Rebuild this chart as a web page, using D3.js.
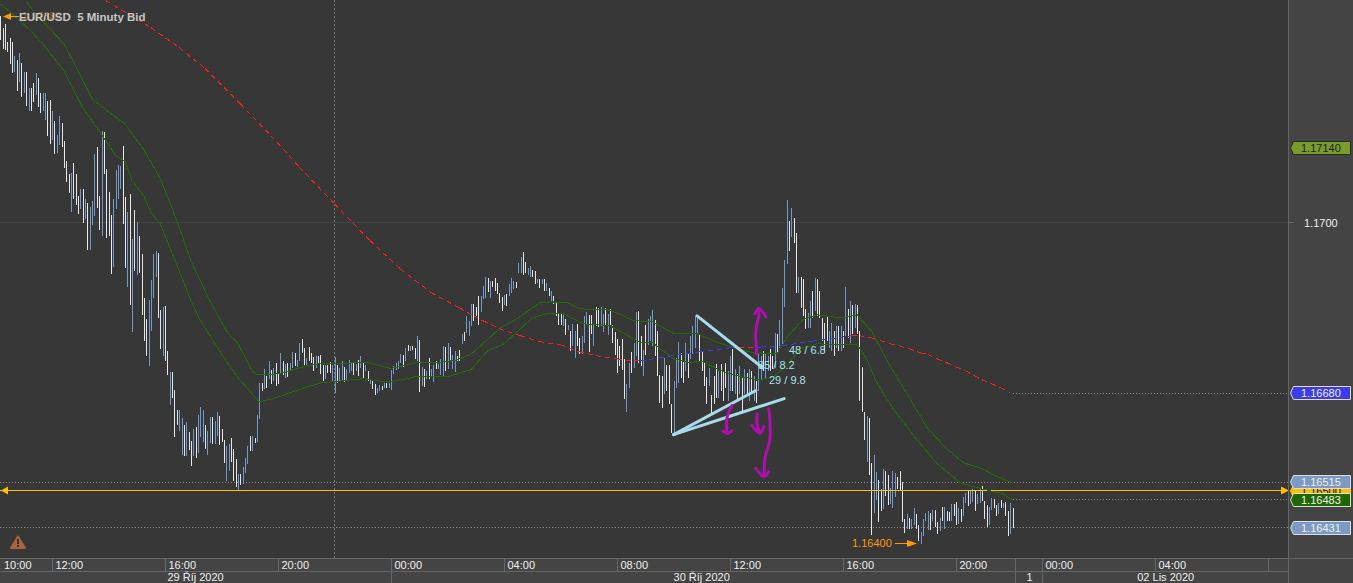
<!DOCTYPE html>
<html><head><meta charset="utf-8"><script src="https://cdn.jsdelivr.net/npm/d3@7"></script>
<style>html,body{margin:0;padding:0;background:#373737;overflow:hidden}svg{display:block;font-family:"Liberation Sans",sans-serif}</style></head>
<body><div id="chart"></div>
<script>
// Prices are stored as points above 1.16000 (1 point = 0.00001). Bars are 5-minute bars, in order.
const BASE = 1.16;
const highs = [
1382,1360,1367,1334,1341,1334,1308,1300,1313,1295,1278,1278,1248,1248,1257,1276,1267,1239,1239,1239,1224,1226,1205,1187,1161,1196,1183,1150,1112,1088,1090,1109,1088,1047,1060,1060,1042,1034,1027,1038,1125,1138,1047,1168,1166,1098,1055,1012,1042,1096,1105,1103,1140,1045,1018,1051,967,1021,999,973,939,858,819,854,891,939,945,941,835,841,843,759,
720,720,686,649,649,634,620,627,608,592,614,618,640,655,649,620,610,636,636,629,646,638,614,593,582,586,597,577,558,530,530,543,560,582,601,601,597,640,699,699,725,712,740,724,727,737,716,755,740,735,737,737,757,755,742,774,781,765,746,766,755,748,750,750,752,733,733,733,739,733,748,733,727,740,729,725,742,739,739,735,742,750,739,733,722,707,703,698,690,696,694,699,699,699,724,731,737,740,753,752,765,770,768,768,765,787,779,729,725,722,746,725,733,740,735,744,768,766,774,766,752,759,750,761,791,794,824,
815,846,846,841,861,861,880,897,895,889,889,895,885,867,859,863,865,884,895,889,887,923,934,943,925,913,917,910,908,893,893,893,893,885,876,871,861,848,828,828,828,819,807,796,809,796,809,783,787,824,832,826,826,807,841,839,841,828,839,828,837,807,794,781,768,781,744,698,737,757,774,832,833,787,761,807,819,824,835,817,796,714,
712,746,733,733,660,703,746,776,755,740,774,755,787,806,824,824,791,759,737,711,727,677,712,735,722,735,722,737,722,750,763,725,716,731,709,725,718,725,722,712,703,753,750,759,753,750,763,750,792,791,
817,876,928,1040,1001,1025,1006,978,897,897,893,837,830,852,871,895,893,871,820,811,822,796,811,796,806,806,806,796,878,837,
852,845,846,845,796,729,646,637,634,551,566,534,519,502,540,536,528,504,536,532,525,536,515,446,456,448,446,467,456,434,422,446,458,461,458,463,463,441,448,469,469,461,460,474,474,478,467,465,487,495,500,499,502,499,493,502,508,480,473,469,486,484,473,476,482,476,478,461,476,467];
const lows = [
1337,1321,1319,1315,1293,1276,1278,1243,1259,1231,1239,1215,1205,1205,1222,1235,1213,1202,1205,1189,1159,1144,1151,1125,1127,1142,1138,1099,1073,1053,1018,1042,1031,1014,1023,997,1005,947,947,993,1010,1025,984,973,1088,969,973,902,915,1023,1042,1060,995,913,878,845,794,908,900,904,826,778,750,731,796,858,897,820,763,750,740,713,
659,672,599,620,610,566,564,564,575,545,564,560,569,599,590,577,566,588,586,586,601,584,590,551,517,536,553,517,506,499,510,512,532,549,573,573,588,590,632,685,688,690,707,698,703,694,698,716,714,709,711,722,727,731,729,740,755,733,733,740,737,722,727,735,716,703,707,718,718,703,681,699,701,703,701,703,718,722,714,722,712,727,707,722,703,698,688,677,681,685,686,690,690,690,686,716,724,725,737,729,740,759,759,761,744,740,683,694,692,707,707,711,701,725,725,714,712,722,725,740,725,720,740,740,772,778,792,
787,806,815,824,807,832,856,858,869,858,878,871,865,848,833,845,843,861,867,874,876,904,904,900,904,900,897,897,884,885,876,884,871,871,861,852,846,824,807,807,806,789,798,759,768,746,768,753,753,774,807,757,791,768,806,804,806,793,807,789,806,774,752,718,731,724,670,646,690,718,727,750,737,731,712,752,770,778,768,750,712,662,
653,679,685,660,606,605,690,699,709,699,722,709,744,753,765,791,740,722,694,660,694,642,660,672,672,685,666,690,666,685,685,679,666,679,647,679,675,666,679,666,662,685,707,722,709,722,722,725,727,753,
765,772,841,921,945,971,960,867,867,839,824,800,802,802,820,833,824,820,778,759,778,765,759,750,765,759,759,765,787,783,
774,791,802,791,666,646,593,553,528,417,458,482,441,461,465,489,473,474,467,487,502,499,441,420,428,428,428,435,428,406,400,415,443,426,426,443,432,419,424,443,428,443,443,443,452,435,437,441,452,476,471,474,478,461,474,476,480,446,432,434,463,467,452,456,467,467,452,415,418,430];
// bar colour class per bar: b = blue (rising), w = white (falling)
const barDirs = [
"wwwwwwbwbwbwbwwbwwbbwwbwbbwwwwbwwwbwbwbbbwwbwwwwbbbbwwbwbwbwwwwbbbbwwbww",
"bwwwbbwbww","bwbbbwbbwb","bwwwbbwwwb","wbbbwbwbbw","bwbwbwwbwb","wbbwbbwwbw","wwbwwwbwwb","bwbbwbbbwb","wbwbwbwwbb","wbwbbbbbbw","bwbwwbwbwb","wbbwbbbwbw","bbwwbwb",
"b","bwwwbbbwbw","wwwwbwbbbw","bbwwbbwwbw","bwbwbwwwwb","wbwbbwwbbb","wwbwwbbwbw","wwwwwwbbwbb","wwbwbbbwww",
"wbwwwbbbwwb","wbbbbwwwwb","wwwbwwwbbw","bwbwbwbwbwb","bwbbwwbw",
"bbbbwbwwbw","wwbbwbwwww","wbbwbwbwbw",
"bwbwwwwbww","bbwwbwwbbb","wwwwbwbbww","bbbbwbwwbw","bwwbwwbwbb","wbbwbbwwwb","bwwbwbwwbw"
].join("");
const hourTickIdx  = [-2,22,70,118,166,214,262,310,358,406,442.5,490.5,538.5];
const hourLabels   = ["10:00","12:00","16:00","20:00","00:00","04:00","08:00","12:00","16:00","20:00","00:00","04:00",""];
const dateSepIdx   = [166,431,442.5];
const dateLabels   = ["29 Říj 2020","30 Říj 2020","1","02 Lis 2020"];
const dateLabelIdx = [71,286,436,483];
// moving averages, read at sampled bar positions
const emaUpperIdx = [11,14,21,27,33,39,47,53,55,61,68,75,81,89,96,101,107,109,115,122,130,136,156,166,177,186,194,200,204,212,220,229,234,241,246,258,263,269,277,286,296,305,313,322,330,334,341,347,357,364,370,378,387,394,402,409,417,423,430];
const emaUpperVal = [1410,1391,1358,1330,1280,1228,1200,1181,1168,1133,1079,1001,926,852,796,772,722,714,714,720,731,735,737,726,737,737,742,753,768,800,820,848,850,848,837,835,828,815,813,791,791,774,763,753,753,783,817,826,820,826,796,731,666,614,577,551,540,526,513];
const emaLowerIdx = [0,5,13,18,27,35,44,49,53,56,61,64,68,72,76,81,85,90,95,101,110,116,129,136,154,164,173,177,191,200,207,214,221,226,232,239,248,259,265,272,277,286,293,298,306,314,322,328,334,340,347,357,364,368,372,379,388,398,408,417,426,430];
const emaLowerVal = [1404,1386,1354,1330,1280,1211,1155,1122,1112,1075,1047,1016,995,951,908,852,815,781,746,709,664,670,690,699,707,701,707,712,712,724,759,772,800,820,828,828,809,806,791,774,774,744,737,740,722,711,705,709,731,763,772,770,770,744,703,653,601,549,513,502,493,482];
const smaIdx = [45,64,76,87,102,115,127,142,157,170,183,195,201,205,212,221,229,238,246,253,262,269,272,280,297,311,314,321,323,332,345,362,365,370,374,378,382,386,391,394,398,402,406,410,414,417,421,425,429];
const smaVal = [1410,1360,1323,1284,1218,1159,1101,1032,964,911,867,839,824,815,800,787,776,770,757,750,744,740,740,746,757,765,766,766,766,768,777,787,787,783,778,772,768,763,755,752,744,737,729,722,712,705,698,690,681];
const smaRisingRanges = [[272,314],[321,362]];
// price alerts / levels
const levelPrices = {high:1.16515, alert:1.16500, ema:1.16483, low:1.16431, sma:1.16680, top:1.17140};
// hand-drawn annotations (bar index, points)
const trendLines = [[296,824,324,727],[286,603,321,685],[286,603,333,670]];
const arrowShafts = [
 [[321.3,753],[321,796],[322.3,828],[322,837]],
 [[310.8,657],[308.7,634],[308.7,606]],
 [[321.5,642],[321.5,623],[322.7,606]],
 [[326.5,651],[327,597],[324.9,560],[324.4,527]]];
const arrowHeads = [
 [[320.6,828],[322.3,837],[325.3,822]],
 [[307,610],[308.7,605],[310.8,610]],
 [[319.3,620],[322.7,606],[324.4,618]],
 [[321,540],[324.4,525],[326.5,534]]];
const noteLabels = [["48 / 6.8",789,350],["35 / 8.2",758,365],["29 / 9.8",769,380]];

const W=1353,H=583,PR=1288,PB=558;
const svg=d3.select("#chart").append("svg").attr("width",W).attr("height",H);
const x=d3.scaleLinear().domain([0,430]).range([0.3,1012.5]);
const y=d3.scaleLinear().domain([BASE+1410e-5,BASE]).range([0.8,758.8]);
const yp=n=>y(BASE+n*1e-5);
const px=v=>Math.round(v)+0.5;

svg.append("rect").attr("width",W).attr("height",H).attr("fill","#373737");
svg.append("rect").attr("x",PR).attr("width",W-PR).attr("height",H).attr("fill","#444444");
svg.append("rect").attr("y",PB).attr("width",W).attr("height",H-PB).attr("fill","#444444");

const crisp=svg.append("g").attr("shape-rendering","crispEdges");
crisp.append("line").attr("x1",0).attr("x2",PR).attr("y1",222.5).attr("y2",222.5).attr("stroke","#434343");
crisp.append("line").attr("x1",PR).attr("x2",PR+6).attr("y1",222.5).attr("y2",222.5).attr("stroke","#666");
crisp.append("line").attr("x1",334.5).attr("x2",334.5).attr("y1",0).attr("y2",PB).attr("stroke","#7a7a7a").attr("stroke-dasharray","2 2");
const dotted=(x1,p,c)=>crisp.append("line").attr("x1",x1).attr("x2",PR).attr("y1",px(y(p))).attr("y2",px(y(p))).attr("stroke",c||"#8c8c8c").attr("stroke-dasharray","1 2");
dotted(0,levelPrices.high);dotted(1013,levelPrices.ema);dotted(0,levelPrices.low);dotted(1013,levelPrices.sma);

// bars
crisp.append("g").selectAll("rect").data(highs.map((h,i)=>({i,h,l:lows[i],d:barDirs[i]}))).join("rect")
 .attr("x",d=>Math.round(x(d.i))).attr("width",1)
 .attr("y",d=>Math.round(yp(d.h))).attr("height",d=>Math.max(1,Math.round(yp(d.l))-Math.round(yp(d.h))))
 .attr("fill",d=>d.d==="b"?"#7199cb":"#e6e6e6");

// averages
const line=d3.line().x(d=>x(d[0])).y(d=>yp(d[1]));
const zip=(a,b)=>a.map((v,i)=>[v,b[i]]);
const aG=svg.append("g").attr("fill","none").attr("shape-rendering","crispEdges");
aG.append("path").attr("d",line(zip(emaUpperIdx,emaUpperVal))).attr("stroke","#226b06");
aG.append("path").attr("d",line(zip(emaLowerIdx,emaLowerVal))).attr("stroke","#226b06");
const sma=zip(smaIdx,smaVal);
const inRise=i=>smaRisingRanges.some(r=>i>=r[0]&&i<r[1]);
for(let k=0;k<sma.length-1;k++){
  aG.append("path").attr("d",line([sma[k],sma[k+1]]))
   .attr("stroke",inRise(sma[k][0])?"#3a3cf5":"#fa1e1e").attr("stroke-dasharray","5 4");
}

// yellow level line
const yl=px(y(levelPrices.alert));
crisp.append("line").attr("x1",0).attr("x2",PR).attr("y1",yl).attr("y2",yl).attr("stroke","#ffc000");
svg.append("path").attr("fill","#ffc000").attr("d",d3.line()([[1,yl],[8,yl-4],[8,yl+4]]));
svg.append("path").attr("fill","#ffc000").attr("d",d3.line()([[1289,yl],[1281,yl-4],[1281,yl+4]]));

// trend lines
svg.append("g").selectAll("line").data(trendLines).join("line")
 .attr("x1",d=>x(d[0])).attr("y1",d=>yp(d[1])).attr("x2",d=>x(d[2])).attr("y2",d=>yp(d[3]))
 .attr("stroke","#a6dcec").attr("stroke-width",3).attr("stroke-linecap","round");
const curve=d3.line().x(d=>x(d[0])).y(d=>yp(d[1])).curve(d3.curveCatmullRom);
svg.append("g").selectAll("path").data(arrowShafts.concat(arrowHeads)).join("path")
 .attr("d",d=>curve(d)).attr("fill","none").attr("stroke","#b00fb0").attr("stroke-width",3).attr("stroke-linecap","round").attr("stroke-linejoin","round");

// notes
svg.append("g").selectAll("text").data(noteLabels).join("text")
 .attr("x",d=>d[1]).attr("y",d=>d[2]+4).text(d=>d[0]).attr("font-size",11).attr("fill","#a8e2ea");

// low marker
svg.append("text").attr("x",852).attr("y",547).attr("font-size",11).attr("fill","#ff9a00").text("1.16400");
svg.append("line").attr("x1",895).attr("x2",912).attr("y1",543.5).attr("y2",543.5).attr("stroke","#ff9a00");
svg.append("path").attr("fill","#ff9a00").attr("d",d3.line()([[917,543.5],[907,540],[907,547]]));

// top-left
svg.append("text").attr("x",22).attr("y",20).attr("font-size",11).attr("fill","#ff9a00").attr("opacity",0.4).text("1.17382");
svg.append("line").attr("x1",8).attr("x2",19).attr("y1",16.5).attr("y2",16.5).attr("stroke","#ff9a00");
svg.append("path").attr("fill","#ff9a00").attr("d",d3.line()([[3,16.5],[11,13],[11,20]]));
svg.append("text").attr("x",19).attr("y",21).attr("font-size",11.5).attr("font-weight","bold").attr("fill","#c6c6c6").style("white-space","pre").text("EUR/USD  5 Minuty Bid");

// warning icon
const warn=svg.append("g");
warn.append("path").attr("d","M18 536.5 L25 548 L11 548 Z").attr("fill","#a9643a").attr("stroke","#a9643a").attr("stroke-width",2).attr("stroke-linejoin","round");
warn.append("rect").attr("x",17).attr("y",539).attr("width",2).attr("height",5).attr("fill","#373737");
warn.append("rect").attr("x",17).attr("y",545).attr("width",2).attr("height",2).attr("fill","#373737");

// frame and axes
const frame=svg.append("g").attr("shape-rendering","crispEdges").attr("stroke","#666");
frame.append("line").attr("x1",0).attr("x2",W).attr("y1",558.5).attr("y2",558.5);
frame.append("line").attr("x1",0).attr("x2",PR).attr("y1",571.5).attr("y2",571.5);
frame.append("line").attr("x1",PR+.5).attr("x2",PR+.5).attr("y1",0).attr("y2",H);
frame.selectAll(".ht").data(hourTickIdx.slice(1)).join("line").attr("class","ht")
 .attr("x1",d=>px(x(d))).attr("x2",d=>px(x(d))).attr("y1",558).attr("y2",571);
frame.selectAll(".ds").data(dateSepIdx).join("line").attr("class","ds")
 .attr("x1",d=>px(x(d))).attr("x2",d=>px(x(d))).attr("y1",d=>d===166?571:558).attr("y2",H);
const axisText=svg.append("g").attr("font-size",11).attr("fill","#f0f0f0");
axisText.selectAll(".hl").data(hourLabels.map((t,i)=>({t,i:hourTickIdx[i]}))).join("text").attr("class","hl")
 .attr("x",d=>d.i<0?4:px(x(d.i))+3).attr("y",569).text(d=>d.t);
axisText.selectAll(".dl").data(dateLabels.map((t,i)=>({t,i:dateLabelIdx[i]}))).join("text").attr("class","dl")
 .attr("x",d=>x(d.i)).attr("y",581).text(d=>d.t);

// price tick
svg.append("text").attr("x",1304).attr("y",227).attr("font-size",11).attr("fill","#f0f0f0").text("1.1700");

// price tags
const tags=[
 {cy:148, f:"#7a9c28", s:"#2a2a2a", t:"#1c1c1c", txt:"1.17140"},
 {cy:393, f:"#3b3bf0", s:"#dddddd", t:"#f0f0f0", txt:"1.16680"},
 {cy:491, f:"#ffc000", s:"#ffc000", t:"#111", txt:"1.16500"},
 {cy:482, f:"#7b9bc6", s:"#dddddd", t:"#f0f0f0", txt:"1.16515"},
 {cy:500, f:"#1f6800", s:"#dddddd", t:"#f0f0f0", txt:"1.16483"},
 {cy:528, f:"#7b9bc6", s:"#dddddd", t:"#f0f0f0", txt:"1.16431"}];
const tg=svg.append("g").selectAll("g").data(tags).join("g");
tg.append("path").attr("d",d=>`M1290.5 ${d.cy} L1293.5 ${d.cy-6.5} H1350.5 V${d.cy+6.5} H1293.5 Z`).attr("fill",d=>d.f).attr("stroke",d=>d.s);
tg.append("text").attr("x",1301).attr("y",d=>d.cy+4).attr("font-size",11).attr("fill",d=>d.t).text(d=>d.txt);
</script>
</body></html>
